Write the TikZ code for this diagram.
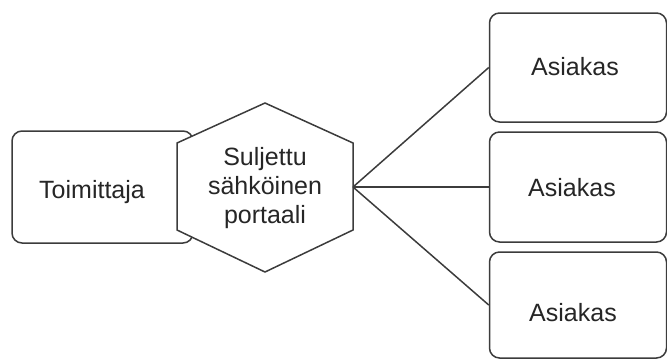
\documentclass[tikz,border=0pt]{standalone}
\usepackage{fontspec}
\setmainfont{Liberation Sans}
\definecolor{edge}{HTML}{3C3C3C}
\definecolor{txt}{HTML}{262626}
\begin{document}
\begin{tikzpicture}[x=1pt,y=-1pt,
  box/.style={draw=edge, line width=1.5pt, rounded corners=10pt, fill=white, inner sep=0pt},
  lbl/.style={text=txt, font=\fontsize{25}{29}\selectfont, align=center, inner sep=0pt},
  conn/.style={draw=edge, line width=1.5pt}]
\useasboundingbox (0,0) rectangle (667,360);
% Toimittaja box
\node[box, minimum width=181pt, minimum height=112pt] (toim) at (102.5,187) {};
\node[lbl] (toimtext) at (92,192) {Toimittaja};
% hexagon
\draw[draw=edge, line width=1.5pt, fill=white]
  (265,103) -- (353,143) -- (353,230) -- (265,272) -- (177,230) -- (177,143) -- cycle;
\node[lbl] (hex) at (265,188) {Suljettu\\sähköinen\\portaali};
\coordinate (hexR) at (353,187);
% Asiakas boxes
\node[box, minimum width=177pt, minimum height=109pt] (a1) at (578,67.5) {};
\node[box, minimum width=177pt, minimum height=110pt] (a2) at (578,187) {};
\node[box, minimum width=177pt, minimum height=106pt] (a3) at (578,305) {};
\node[lbl] (t1) at (575,67) {Asiakas};
\node[lbl] (t2) at (572,188) {Asiakas};
\node[lbl] (t3) at (573,313) {Asiakas};
% connectors
\draw[conn] (hexR) -- (a1.west);
\draw[conn] (hexR) -- (a2.west);
\draw[conn] (hexR) -- (a3.west);
\end{tikzpicture}
\end{document}
